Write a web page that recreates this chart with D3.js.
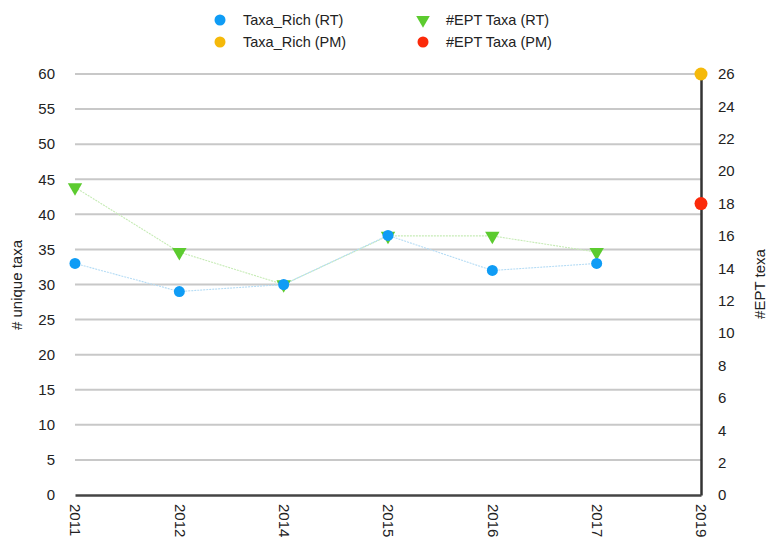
<!DOCTYPE html>
<html><head><meta charset="utf-8">
<script src="https://cdn.jsdelivr.net/npm/d3@7"></script>
<style>body{margin:0;background:#fff}svg{display:block;font-family:"Liberation Sans",Arial,sans-serif}</style>
</head><body>
<svg id="c" width="769" height="542"></svg>
<script>
const years = ["2011","2012","2014","2015","2016","2017","2019"];
const taxaRichRT = [33, 29, 30, 37, 32, 33, null];
const eptRT = [19, 15, 13, 16, 16, 15, null];
const taxaRichPM = [null, null, null, null, null, null, 60];
const eptPM = [null, null, null, null, null, null, 18];
const leftTicks = [0,5,10,15,20,25,30,35,40,45,50,55,60];
const rightTicks = [0,2,4,6,8,10,12,14,16,18,20,22,24,26];

const svg = d3.select("#c");
const x = d3.scalePoint().domain(years).range([75, 701]);
const yL = d3.scaleLinear().domain([0, 60]).range([495, 74]);
const yR = d3.scaleLinear().domain([0, 26]).range([495, 74]);

// gridlines
svg.append("g").selectAll("line").data(leftTicks.filter(d=>d>0)).join("line")
  .attr("x1", 75).attr("x2", 701).attr("y1", d=>yL(d)).attr("y2", d=>yL(d))
  .attr("stroke", "#c8c8c8").attr("stroke-width", 2);

// left axis labels
const gl = svg.append("g").attr("transform","translate(75,0)")
  .call(d3.axisLeft(yL).tickValues(leftTicks).tickSize(0).tickPadding(20));
gl.select(".domain").remove();
gl.selectAll("text").attr("font-size", 15).attr("fill", "#222").attr("font-family","Liberation Sans, Arial, sans-serif");

// right axis
const gr = svg.append("g").attr("transform","translate(701,0)")
  .call(d3.axisRight(yR).tickValues(rightTicks).tickSize(0).tickPadding(17));
gr.select(".domain").attr("stroke","#333").attr("stroke-width",2.5);
gr.selectAll("text").attr("font-size", 15).attr("fill", "#222").attr("font-family","Liberation Sans, Arial, sans-serif");

// bottom baseline and x labels
const gx = svg.append("g").attr("transform","translate(0,495)")
  .call(d3.axisBottom(x).tickSize(0).tickPadding(0));
gx.select(".domain").attr("stroke","#444").attr("stroke-width",2.5);
gx.selectAll("text").attr("font-size", 15).attr("fill", "#222")
  .attr("font-family","Liberation Sans, Arial, sans-serif")
  .attr("transform","rotate(90)").attr("text-anchor","start")
  .attr("x", 9).attr("y", 0).attr("dy","0.35em");

// axis titles
svg.append("text").attr("transform","translate(22,285) rotate(-90)")
  .attr("text-anchor","middle").attr("font-size",15).attr("fill","#222").text("# unique taxa");
svg.append("text").attr("transform","translate(765,284) rotate(-90)")
  .attr("text-anchor","middle").attr("font-size",15).attr("fill","#222").text("#EPT texa");

// lines
function drawLine(vals, y, color){
  const pts = years.map((d,i)=>[d, vals[i]]).filter(p=>p[1]!=null);
  svg.append("path").datum(pts)
    .attr("d", d3.line().x(p=>x(p[0])).y(p=>y(p[1])))
    .attr("fill","none").attr("stroke", color).attr("stroke-width",1.1)
    .attr("stroke-dasharray","2,1");
}
drawLine(eptRT, yR, "#c6ebb5");
drawLine(taxaRichRT, yL, "#b5dcf5");

const tri = d3.symbol().type(d3.symbolTriangle).size(90);
function triangles(vals, y, color){
  svg.append("g").selectAll("path").data(years.map((d,i)=>[d,vals[i]]).filter(p=>p[1]!=null)).join("path")
    .attr("d", tri).attr("fill", color)
    .attr("transform", p=>`translate(${x(p[0])},${y(p[1])}) rotate(180)`);
}
function dots(vals, y, color, r){
  svg.append("g").selectAll("circle").data(years.map((d,i)=>[d,vals[i]]).filter(p=>p[1]!=null)).join("circle")
    .attr("cx", p=>x(p[0])).attr("cy", p=>y(p[1])).attr("r", r).attr("fill", color);
}
triangles(eptRT, yR, "#5ccb2f");
dots(taxaRichRT, yL, "#0f9cf5", 5.5);
dots(taxaRichPM, yL, "#f5b90a", 6.5);
dots(eptPM, yR, "#fb2a0a", 6.5);

// legend
const legend = [
  {label:"Taxa_Rich (RT)", color:"#0f9cf5", shape:"circle", x:220, y:20},
  {label:"Taxa_Rich (PM)", color:"#f5b90a", shape:"circle", x:220, y:42},
  {label:"#EPT Taxa (RT)", color:"#5ccb2f", shape:"tri", x:423, y:20},
  {label:"#EPT Taxa (PM)", color:"#fb2a0a", shape:"circle", x:423, y:42}
];
const lg = svg.append("g").selectAll("g").data(legend).join("g")
  .attr("transform", d=>`translate(${d.x},${d.y})`);
lg.each(function(d){
  const g = d3.select(this);
  if(d.shape==="circle") g.append("circle").attr("r",5.5).attr("fill",d.color);
  else g.append("path").attr("d", d3.symbol().type(d3.symbolTriangle).size(80)).attr("transform","rotate(180)").attr("fill",d.color);
  g.append("text").attr("x", 23).attr("dy","0.35em").attr("font-size",14.5).attr("fill","#222").text(d.label);
});
</script>
</body></html>
